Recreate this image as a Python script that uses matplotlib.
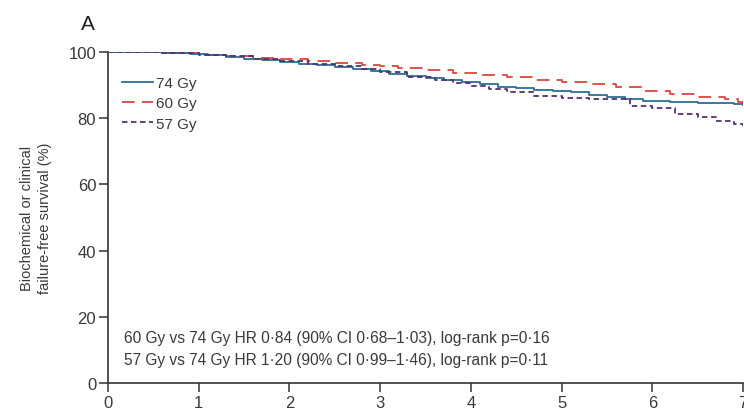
import matplotlib
matplotlib.use("Agg")
import matplotlib.pyplot as plt
from matplotlib import font_manager

# survival (years, %)
t_74 = [0, 0.6, 0.9, 1.1, 1.3, 1.5, 1.7, 1.9, 2.1, 2.3, 2.5, 2.7, 2.9, 3.1, 3.3, 3.5,
        3.7, 3.9, 4.1, 4.3, 4.5, 4.7, 4.9, 5.1, 5.3, 5.5, 5.7, 5.9, 6.2, 6.5, 6.9, 7.0]
s_74 = [100, 99.7, 99.3, 99.0, 98.5, 98.0, 97.5, 97.0, 96.5, 96.0, 95.6, 95.0, 94.4, 93.5,
        92.6, 92.2, 91.5, 90.8, 90.2, 89.5, 89.0, 88.6, 88.3, 87.8, 87.0, 86.3, 85.8, 85.3,
        85.0, 84.6, 84.2, 84.0]

t_60 = [0, 0.6, 1.0, 1.3, 1.6, 1.9, 2.2, 2.5, 2.8, 3.0, 3.2, 3.5, 3.8, 4.1, 4.4, 4.7,
        5.0, 5.3, 5.6, 5.9, 6.2, 6.5, 6.8, 6.95, 7.0]
s_60 = [100, 99.6, 99.2, 98.8, 98.3, 97.8, 97.3, 96.8, 96.2, 95.7, 95.2, 94.6, 93.8, 93.0,
        92.3, 91.5, 91.0, 90.3, 89.3, 88.2, 87.4, 86.5, 85.8, 85.0, 84.3]

t_57 = [0, 0.6, 1.0, 1.3, 1.6, 1.9, 2.2, 2.5, 2.8, 3.0, 3.3, 3.6, 3.8, 4.0, 4.2, 4.4,
        4.7, 5.0, 5.3, 5.75, 6.0, 6.25, 6.5, 6.7, 6.9, 7.0]
s_57 = [100, 99.7, 99.2, 98.7, 98.0, 97.2, 96.5, 95.8, 94.8, 94.0, 92.5, 91.6, 90.6, 89.8,
        88.8, 87.8, 86.8, 86.0, 85.7, 83.6, 83.0, 81.2, 80.5, 79.2, 78.2, 77.7]

x_ticks = [0, 1, 2, 3, 4, 5, 6, 7]
y_ticks = [0, 20, 40, 60, 80, 100]

note = ("60 Gy vs 74 Gy HR 0\u00b784 (90% CI 0\u00b768\u20131\u00b703), log-rank p=0\u00b716\n"
        "57 Gy vs 74 Gy HR 1\u00b720 (90% CI 0\u00b799\u20131\u00b746), log-rank p=0\u00b711")

names = {f.name for f in font_manager.fontManager.ttflist}
fam = "Liberation Sans Narrow" if "Liberation Sans Narrow" in names else "Liberation Sans"
plt.rcParams['font.family'] = [fam, 'DejaVu Sans']

txt = "#3a3a3a"
fig = plt.figure(figsize=(7.44, 4.10), dpi=100)
ax = fig.add_axes([108 / 744, 1 - 384 / 410, (743 - 108) / 744, (384 - 53) / 410])

ax.plot(t_74, s_74, drawstyle='steps-post', color='#2e6c96', lw=1.3, label='74 Gy', zorder=3)
ax.plot(t_60, s_60, drawstyle='steps-post', color='#d8453e', lw=1.3, dashes=(7, 4),
        label='60 Gy', zorder=2)
ax.plot(t_57, s_57, drawstyle='steps-post', color='#55306e', lw=1.3, dashes=(3, 2),
        label='57 Gy', zorder=4)

ax.set_xlim(0, 7)
ax.set_ylim(0, 100)
ax.set_xticks(x_ticks)
ax.set_yticks(y_ticks)
for s in ['top', 'right']:
    ax.spines[s].set_visible(False)
for s in ['left', 'bottom']:
    ax.spines[s].set_color('#333333')
    ax.spines[s].set_linewidth(1.2)
ax.tick_params(direction='out', length=6.5, width=1.1, color='#333333',
               labelsize=12, labelcolor=txt, pad=2)

ax.set_ylabel("Biochemical or clinical\nfailure-free survival (%)", fontsize=10.5,
              color=txt, linespacing=1.35, labelpad=12)

leg = ax.legend(loc='upper left', bbox_to_anchor=(0.013, 0.945), frameon=False,
                fontsize=11, handlelength=2.0, handletextpad=0.2, labelspacing=0.4,
                borderaxespad=0)
for t in leg.get_texts():
    t.set_color(txt)

ax.text(0.025, 0.104, note, transform=ax.transAxes, fontsize=11.2, color=txt,
        linespacing=1.55, va='center', ha='left')

fig.text(88 / 744, 1 - 25 / 410, "A", fontsize=15, color='#222222', ha='center',
         va='center')

fig.savefig("out.png", dpi=100)
